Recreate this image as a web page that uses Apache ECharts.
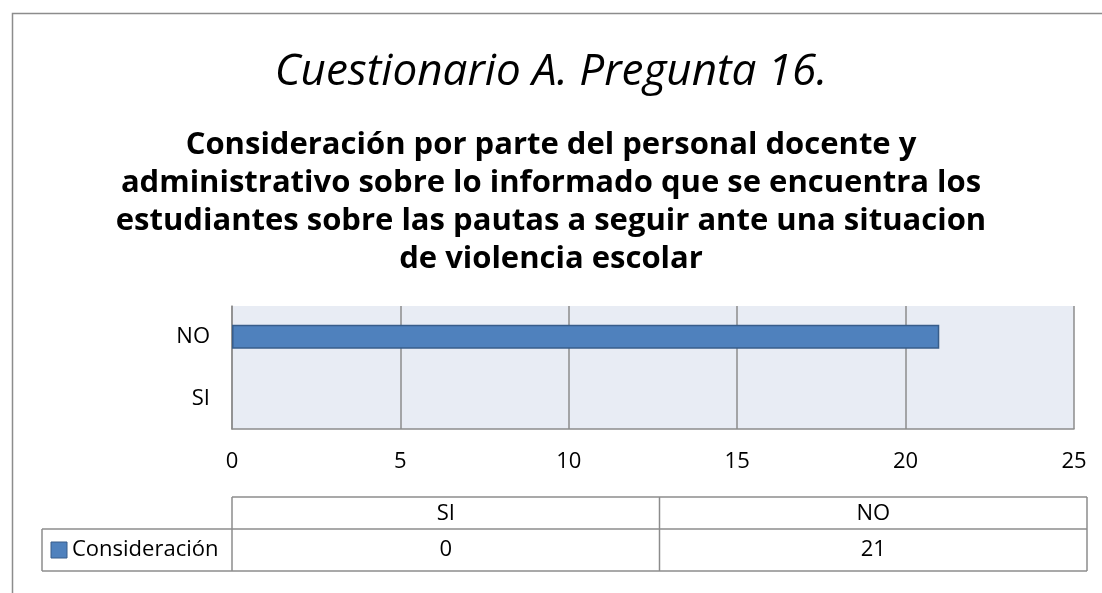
<!DOCTYPE html>
<html>
<head>
<meta charset="utf-8">
<script src="https://cdn.jsdelivr.net/npm/echarts@6/dist/echarts.min.js"></script>
<style>
  html, body { margin: 0; padding: 0; background: #fff; }
  #chart { width: 1102px; height: 593px; }
</style>
</head>
<body>
<div id="chart"></div>
<script>
// datos del grafico
var categories = ["SI", "NO"];
var values = [0, 21];
var seriesName = "Consideración";
var xTicks = [0, 5, 10, 15, 20, 25];

var titleText = "Cuestionario A. Pregunta 16.";
var subText = "Consideración por parte del personal docente y\nadministrativo sobre lo informado que se encuentra los\nestudiantes sobre las pautas a seguir ante una situacion\nde violencia escolar";

var font = "'Open Sans', 'Noto Sans', sans-serif";
var gridLeft = 232, gridRight = 1074, gridTop = 306, gridBottom = 429;

var myChart = echarts.init(document.getElementById("chart"));

// tabla de datos debajo del eje
var tblLeft = 42, tblRight = 1087, rowTop = 497, rowMid = 529, rowBot = 571;
var colW = (tblRight - gridLeft) / categories.length;
var lineStyle = { stroke: "#8c8c8c", lineWidth: 1.5 };
var tblFont = "22px " + font;
var graphics = [
  // marco exterior
  { type: "rect", shape: { x: 12.5, y: 13.5, width: 1200, height: 700 }, style: { fill: null, stroke: "#8c8c8c", lineWidth: 1.5 } },
  { type: "line", shape: { x1: gridLeft, y1: rowTop, x2: tblRight, y2: rowTop }, style: lineStyle },
  { type: "line", shape: { x1: tblLeft, y1: rowMid, x2: tblRight, y2: rowMid }, style: lineStyle },
  { type: "line", shape: { x1: tblLeft, y1: rowBot, x2: tblRight, y2: rowBot }, style: lineStyle },
  { type: "line", shape: { x1: tblLeft, y1: rowMid, x2: tblLeft, y2: rowBot }, style: lineStyle },
  { type: "line", shape: { x1: tblRight, y1: rowTop, x2: tblRight, y2: rowBot }, style: lineStyle },
  { type: "line", shape: { x1: gridLeft, y1: rowTop, x2: gridLeft, y2: rowBot }, style: lineStyle },
  { type: "rect", shape: { x: 51, y: 542, width: 16, height: 16 }, style: { fill: "#4F81BD", stroke: "#385D8A", lineWidth: 1 } },
  { type: "text", style: { x: 72, y: 550, text: seriesName, font: tblFont, fill: "#000", textVerticalAlign: "middle" } }
];
// columnas de la tabla en el mismo orden que las categorias
categories.forEach(function (c, i) {
  var x0 = gridLeft + colW * i;
  if (i > 0) {
    graphics.push({ type: "line", shape: { x1: x0, y1: rowTop, x2: x0, y2: rowBot }, style: lineStyle });
  }
  graphics.push({ type: "text", style: { x: x0 + colW / 2, y: (rowTop + rowMid) / 2 + 1, text: c, font: tblFont, fill: "#000", textAlign: "center", textVerticalAlign: "middle" } });
  graphics.push({ type: "text", style: { x: x0 + colW / 2, y: (rowMid + rowBot) / 2, text: String(values[i]), font: tblFont, fill: "#000", textAlign: "center", textVerticalAlign: "middle" } });
});

var option = {
  animation: false,
  title: [
    {
      text: titleText,
      left: "center",
      top: 40,
      textStyle: { fontFamily: font, fontStyle: "italic", fontWeight: "normal", fontSize: 44, lineHeight: 54, color: "#000" }
    },
    {
      text: subText,
      left: "center",
      top: 121,
      textStyle: { fontFamily: font, fontWeight: "bold", fontSize: 31, lineHeight: 38, color: "#000" }
    }
  ],
  grid: {
    left: gridLeft,
    right: 1102 - gridRight,
    top: gridTop,
    bottom: 593 - gridBottom,
    show: true,
    backgroundColor: "#E8ECF4",
    borderWidth: 0
  },
  xAxis: {
    type: "value",
    min: xTicks[0],
    max: xTicks[xTicks.length - 1],
    interval: 5,
    axisLine: { show: true, lineStyle: { color: "#8c8c8c", width: 1.5 } },
    axisTick: { show: false },
    splitLine: { show: true, lineStyle: { color: "#8c8c8c", width: 1.5 } },
    axisLabel: { fontFamily: font, fontSize: 22, color: "#000", margin: 22 }
  },
  yAxis: {
    type: "category",
    data: categories,
    axisLine: { show: true, lineStyle: { color: "#8c8c8c", width: 1.5 } },
    axisTick: { show: false },
    axisLabel: { fontFamily: font, fontSize: 22, color: "#000", margin: 22 }
  },
  series: [
    {
      name: seriesName,
      type: "bar",
      // sin borde cuando el valor es 0 (como en Excel)
      data: values.map(function (v) {
        return v === 0 ? { value: v, itemStyle: { borderWidth: 0 } } : v;
      }),
      barWidth: 24,
      itemStyle: { color: "#4F81BD", borderColor: "#385D8A", borderWidth: 1.5 }
    }
  ],
  graphic: graphics
};

myChart.setOption(option);
</script>
</body>
</html>
